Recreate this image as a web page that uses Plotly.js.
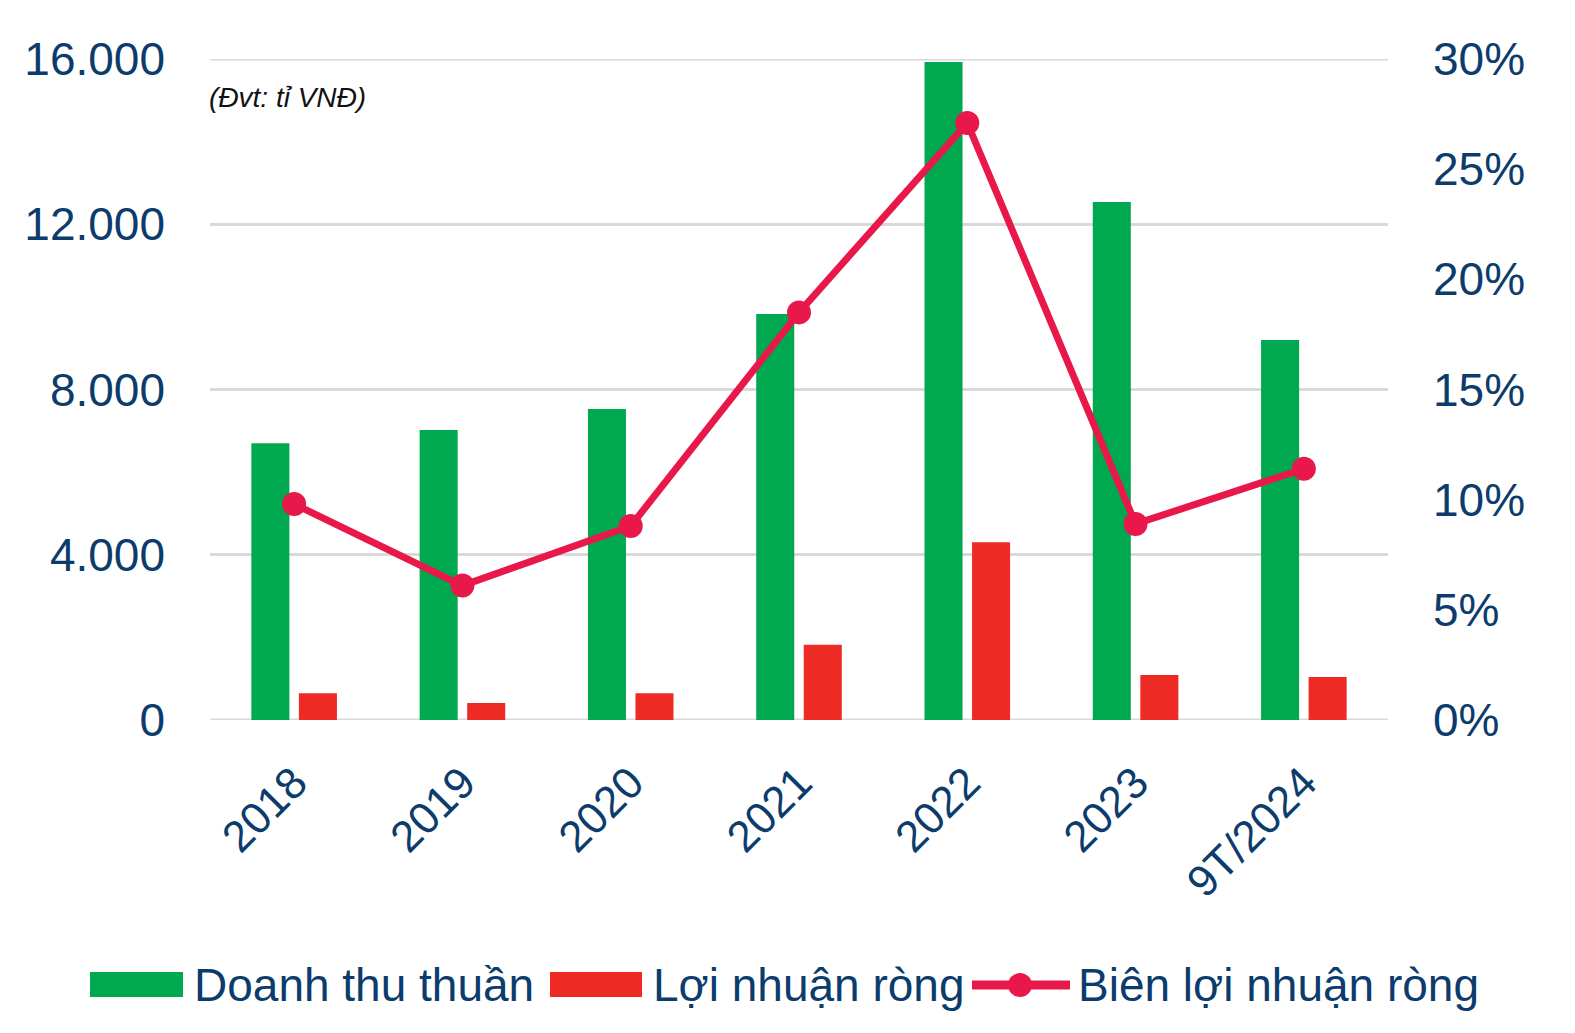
<!DOCTYPE html>
<html><head><meta charset="utf-8">
<script src="https://cdn.plot.ly/plotly-3.0.1.min.js"></script>
<style>html,body{margin:0;padding:0;background:#fff}#chart{width:1575px;height:1033px}</style>
</head><body><div id="chart"></div>
<script>
const categories = ["2018","2019","2020","2021","2022","2023","9T/2024"];
const revenue = [6700, 7020, 7530, 9830, 15930, 12540, 9200];
const netProfit = [650, 410, 650, 1820, 4300, 1090, 1040];
const netMargin = [9.8, 6.1, 8.8, 18.5, 27.1, 8.9, 11.4];
const seriesNames = ["Doanh thu thuần", "Lợi nhuận ròng", "Biên lợi nhuận ròng"];
const unitNote = "(Đvt: tỉ VNĐ)";
const leftTicks = [0, 4000, 8000, 12000, 16000];

const navy = "#0b3c6c";
const green = "#00a84f", red = "#ee2a24", pink = "#e8194a";
const gridC = "#d9d9d9";
const fontFam = "Liberation Sans, Arial, sans-serif";

const W = 1575, H = 1033, mL = 210, mR = 187, mT = 59, mB = 313;
const pw = W - mL - mR, ph = H - mT - mB;
const px = x => (x - mL) / pw;
const py = y => (H - mB - y) / ph;

const traces = [
  {type:"bar", name:seriesNames[0], x:categories, y:revenue, marker:{color:green}, yaxis:"y"},
  {type:"bar", name:seriesNames[1], x:categories, y:netProfit, marker:{color:red}, yaxis:"y"},
  {type:"scatter", mode:"lines+markers", name:seriesNames[2], x:categories, y:netMargin, yaxis:"y2",
   line:{color:pink, width:7}, marker:{color:pink, size:24}}
];

const legY = py(985);
const shapes = [
  {type:"line", xref:"paper", yref:"y", x0:0, x1:1, y0:leftTicks[0], y1:leftTicks[0], line:{color:gridC, width:3}, layer:"below"},
  {type:"line", xref:"paper", yref:"y", x0:0, x1:1, y0:leftTicks[4], y1:leftTicks[4], line:{color:gridC, width:3}, layer:"below"},
  {type:"rect", xref:"paper", yref:"paper", x0:px(90), x1:px(183), y0:py(997), y1:py(972), fillcolor:green, line:{width:0}},
  {type:"rect", xref:"paper", yref:"paper", x0:px(550), x1:px(642), y0:py(997), y1:py(972), fillcolor:red, line:{width:0}},
  {type:"line", xref:"paper", yref:"paper", x0:px(972), x1:px(1070), y0:legY, y1:legY, line:{color:pink, width:9}},
  {type:"circle", xref:"paper", yref:"paper", x0:px(1008), x1:px(1032), y0:py(997), y1:py(973), fillcolor:pink, line:{width:0}}
];
const annotations = [
  {xref:"paper", yref:"paper", x:px(192), y:legY, xanchor:"left", yanchor:"middle", showarrow:false, text:seriesNames[0], font:{family:fontFam, size:46, color:navy}},
  {xref:"paper", yref:"paper", x:px(651), y:legY, xanchor:"left", yanchor:"middle", showarrow:false, text:seriesNames[1], font:{family:fontFam, size:46, color:navy}},
  {xref:"paper", yref:"paper", x:px(1076), y:legY, xanchor:"left", yanchor:"middle", showarrow:false, text:seriesNames[2], font:{family:fontFam, size:46, color:navy}},
  {xref:"paper", yref:"paper", x:px(207), y:py(97), xanchor:"left", yanchor:"middle", showarrow:false, text:"<i>"+unitNote+"</i>", font:{family:fontFam, size:28, color:"#111"}}
];

const layout = {
  width:W, height:H,
  margin:{l:mL, r:mR, t:mT, b:mB},
  paper_bgcolor:"#fff", plot_bgcolor:"#fff",
  separators:",.",
  showlegend:false,
  barmode:"group", bargap:0.435, bargroupgap:0.2,
  font:{family:fontFam, color:navy},
  xaxis:{type:"category", showgrid:false, zeroline:false, showline:false, ticks:"",
         tickangle:-45, tickfont:{size:44, color:navy}, ticklabelstandoff:27},
  yaxis:{range:[0,16000], tickvals:leftTicks, tickformat:",d",
         showgrid:true, gridcolor:gridC, gridwidth:3, zeroline:false, showline:false,
         tickfont:{size:46, color:navy}, ticklabelstandoff:44},
  yaxis2:{range:[0,30], dtick:5, ticksuffix:"%", overlaying:"y", side:"right",
          showgrid:false, zeroline:false, showline:false,
          tickfont:{size:46, color:navy}, ticklabelstandoff:44},
  shapes:shapes, annotations:annotations
};
Plotly.newPlot("chart", traces, layout, {displayModeBar:false, staticPlot:true});
</script></body></html>
